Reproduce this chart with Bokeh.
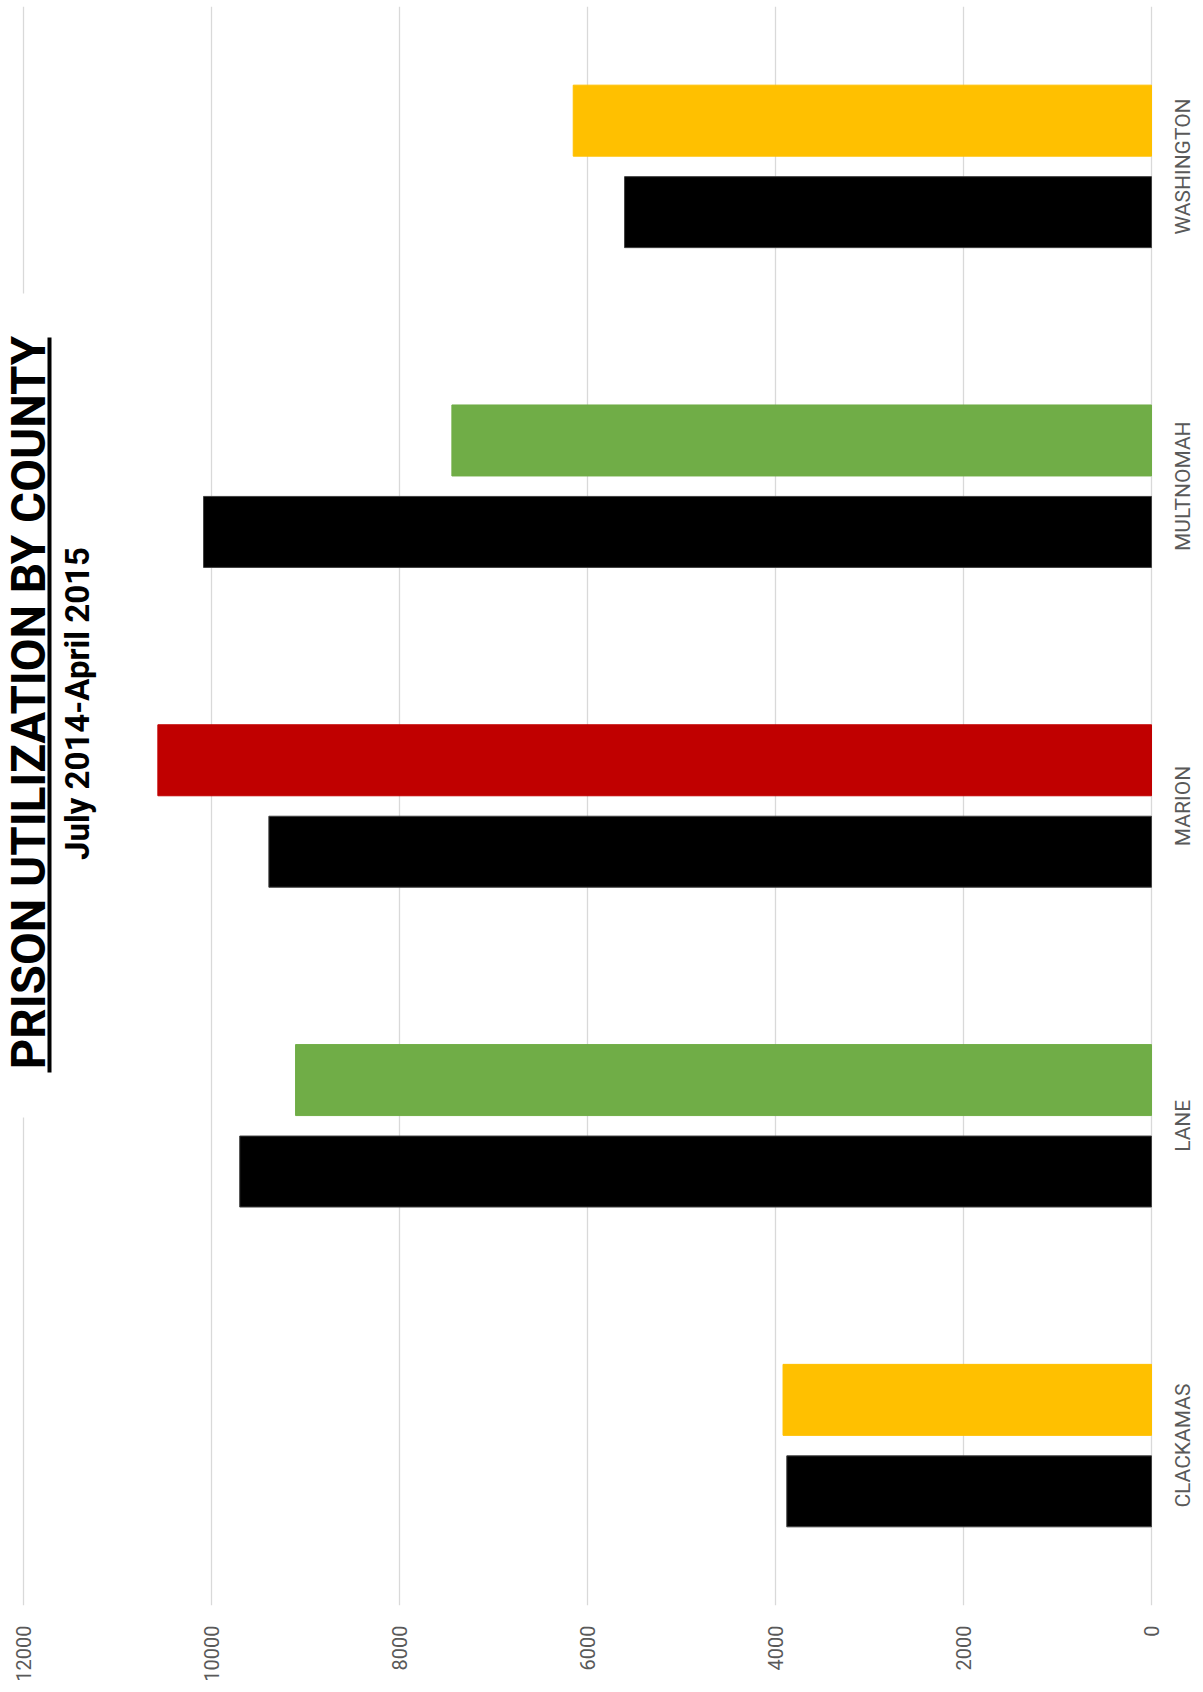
import math
from bokeh.plotting import figure
from bokeh.models import (FactorRange, Range1d, BoxAnnotation, Label, LabelSet,
                          ColumnDataSource, FixedTicker)
from bokeh.transform import dodge
from bokeh.core.properties import value
from bokeh.embed import file_html
from bokeh.resources import INLINE

# ---- data ----
counties = ["CLACKAMAS", "LANE", "MARION", "MULTNOMAH", "WASHINGTON"]
series_black = [3880, 9700, 9390, 10085, 5606]
series_status = [3920, 9106, 10571, 7443, 6152]
status_colors = ["#FFC000", "#70AD47", "#C00000", "#70AD47", "#FFC000"]
x_ticks = [0, 2000, 4000, 6000, 8000, 10000, 12000]
title_text = "PRISON UTILIZATION BY COUNTY"
subtitle_text = "July 2014-April 2015"

src = ColumnDataSource(dict(county=counties, black=series_black,
                            status=series_status, scolor=status_colors))

# value axis runs right-to-left (0 at the right); the frame extends past 0
# to leave room for the rotated category labels
p = figure(width=1195, height=1684,
           y_range=FactorRange(*counties),
           x_range=Range1d(12245, -468),
           output_backend="svg", toolbar_location=None,
           min_border_left=0, min_border_top=6,
           min_border_right=0, min_border_bottom=77)

p.outline_line_color = None
p.background_fill_color = "white"
p.border_fill_color = "white"

# bars
p.hbar(y=dodge("county", -0.143, range=p.y_range), left=0, right="black",
       height=0.222, source=src, fill_color="black", line_color="#404040",
       line_width=1)
p.hbar(y=dodge("county", 0.143, range=p.y_range), left=0, right="status",
       height=0.222, source=src, fill_color="scolor", line_color="scolor")

# grid
p.ygrid.visible = False
p.xgrid.grid_line_color = "#D9D9D9"
p.xgrid.grid_line_width = 1.3

# x axis (value axis, bottom)
xa = p.xaxis[0]
xa.ticker = FixedTicker(ticks=x_ticks)
xa.axis_line_color = None
xa.major_tick_line_color = None
xa.minor_tick_line_color = None
xa.major_tick_out = 0
xa.major_tick_in = 0
xa.minor_tick_out = 0
xa.minor_tick_in = 0
xa.axis_label_standoff = 0
xa.major_label_orientation = math.pi / 2
xa.major_label_standoff = 20
xa.major_label_text_font = "Roboto"
xa.major_label_text_font_size = "20px"
xa.major_label_text_color = "#595959"

# category labels (rotated, centred on each category)
p.yaxis.visible = False
p.add_layout(LabelSet(x=1182.5, y="county", x_units="screen", source=src,
                      text="county", angle=math.pi / 2,
                      text_align="center", text_baseline="middle",
                      text_font=value("Roboto"), text_font_size="21px",
                      text_color="#595959"))

# title block (white backing, underline, texts)
p.add_layout(BoxAnnotation(left=0, right=100, bottom=488, top=1312,
                           left_units="screen", right_units="screen",
                           bottom_units="screen", top_units="screen",
                           fill_color="white", fill_alpha=1.0, line_color=None))
p.add_layout(BoxAnnotation(left=47, right=51, bottom=533, top=1268,
                           left_units="screen", right_units="screen",
                           bottom_units="screen", top_units="screen",
                           fill_color="black", fill_alpha=1.0, line_color=None))
p.add_layout(Label(x=28.3, y=903, x_units="screen", y_units="screen",
                   text=title_text, angle=math.pi / 2,
                   text_align="center", text_baseline="middle",
                   text_font="Roboto", text_font_style="bold",
                   text_font_size="47.5px", text_color="black"))
p.add_layout(Label(x=76.5, y=902, x_units="screen", y_units="screen",
                   text=subtitle_text, angle=math.pi / 2,
                   text_align="center", text_baseline="middle",
                   text_font="Roboto", text_font_style="bold",
                   text_font_size="33px", text_color="black"))

open("out.html", "w").write(file_html(p, INLINE))
